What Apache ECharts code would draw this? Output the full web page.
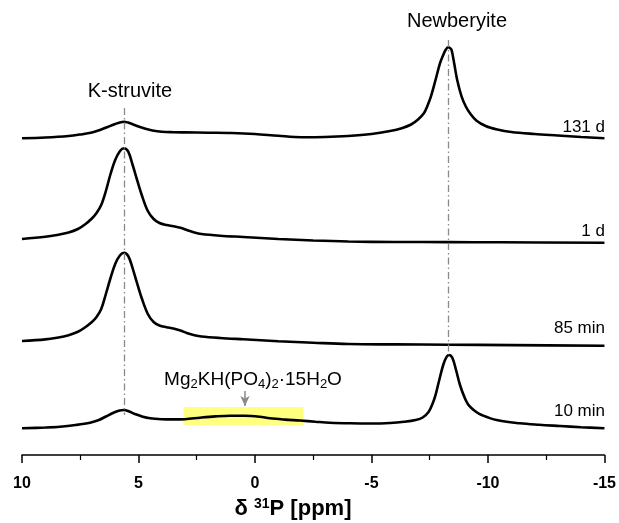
<!DOCTYPE html>
<html>
<head>
<meta charset="utf-8">
<script src="https://cdn.jsdelivr.net/npm/echarts@6/dist/echarts.min.js"></script>
<style>html,body{margin:0;padding:0;background:#fff}#c{width:619px;height:523px}</style>
</head>
<body>
<div id="c"></div>
<script>
// x: chemical shift (ppm), y: stacked intensity (arbitrary units, offset included)
const spec131d = [[10,316.7],[9,317.5],[8,319],[7.5,320.5],[7,322.5],[6.6,325.5],[6.3,328.3],[6,331],[5.8,332.6],[5.62,333.3],[5.45,332.5],[5.25,330.8],[5,328.5],[4.7,326.2],[4.4,324.5],[4,323.3],[3.5,322.8],[3,322.6],[2,322.3],[1,322],[0,321],[-1,319.2],[-2,317.8],[-3,318],[-4,319],[-5,321],[-5.8,324],[-6.3,326.8],[-6.7,330.5],[-7,335.5],[-7.25,341.7],[-7.4,349],[-7.55,358.3],[-7.75,375],[-7.94,391.7],[-8.08,400],[-8.18,405],[-8.29,407.7],[-8.38,406.8],[-8.44,405],[-8.55,391.7],[-8.68,375],[-8.87,358.3],[-9.05,348.5],[-9.23,341.7],[-9.5,334.5],[-9.9,329],[-10.4,325.5],[-11,323],[-12,321],[-13,319.5],[-14,318],[-15,316.7]];
const spec1d = [[10,216],[9,218.2],[8.5,220],[8,222.5],[7.6,226],[7.3,230.5],[7,236.5],[6.8,242],[6.6,250],[6.4,264],[6.2,281],[6,295],[5.8,303.8],[5.62,306.7],[5.44,303.3],[5.25,290],[5.08,276.7],[4.86,260],[4.6,244],[4.35,236],[4.1,232],[3.8,230],[3.5,228.8],[3.2,227.3],[2.9,224.8],[2.6,222.5],[2.3,221],[1.5,219.3],[0.5,218],[-1,216],[-2.5,214.5],[-4,213.5],[-6,213],[-8.3,212.9],[-10.5,212.7],[-15,212.3]];
const spec85min = [[10,114],[9,115.6],[8.5,117.3],[8,119.8],[7.6,123.2],[7.3,127.5],[7,133],[6.8,138],[6.6,146],[6.4,161],[6.2,177],[6,191],[5.8,199.5],[5.62,202.3],[5.44,199],[5.25,186.7],[5.08,173.3],[4.86,156.7],[4.6,141],[4.35,133],[4.1,129.5],[3.8,127.8],[3.5,126.5],[3.2,124.5],[2.9,121.8],[2.6,119.8],[2.3,118.5],[1.5,117],[0.5,115.7],[-1,113.8],[-2.5,112.3],[-4,111],[-6,110.6],[-8.3,110.3],[-11,109.9],[-15,109.3]];
const spec10min = [[10,26.7],[9,27.5],[8.37,28.3],[7.7,30],[7.08,32.3],[6.7,35],[6.4,38.5],[6.1,42],[5.85,44.3],[5.62,45],[5.4,43.5],[5.15,41],[4.85,38.5],[4.5,36.7],[4,35.8],[3.5,35.6],[3,35.8],[2.36,37.3],[1.7,38.6],[1.07,39.3],[0.43,39.3],[-0.2,38.3],[-0.64,36.7],[-1.3,35.4],[-1.93,34.5],[-2.6,33.3],[-3.22,32.3],[-4.08,31.7],[-5,31.5],[-5.8,32],[-6.4,33.2],[-6.9,35],[-7.2,37.5],[-7.45,43],[-7.6,50],[-7.73,58.3],[-7.91,75],[-8.08,90],[-8.23,98.3],[-8.34,100],[-8.48,96.7],[-8.63,85],[-8.8,70],[-9.01,56.7],[-9.15,50.5],[-9.3,46.7],[-9.5,43],[-9.73,40],[-10.37,35],[-11.37,31.7],[-12.2,30.2],[-13.09,29],[-14,27.8],[-15,26.7]];
const seriesNames = ['131 d', '1 d', '85 min', '10 min'];
const xTicks = [10, 5, 0, -5, -10, -15];
const kStruvitePos = 5.62;
const newberyitePos = -8.29;
const mgRange = [3.07, -2.07];
const mgArrowPos = 0.43;

const FONT = '"Liberation Sans", Arial, Helvetica, sans-serif';
const chart = echarts.init(document.getElementById('c'), null, {renderer: 'canvas'});

const lineBase = {type: 'line', showSymbol: false, symbol: 'none', smooth: 0.35,
  lineStyle: {color: '#000', width: 2.6}, z: 3, silent: true};
const dashStyle = {color: '#8a8a8a', width: 1.3, type: [7, 3, 1.5, 3]};

const option = {
  animation: false,
  backgroundColor: '#fff',
  grid: {left: 22, right: 14.5, top: 25, bottom: 68},
  xAxis: {
    type: 'value', min: -15, max: 10, interval: 5, inverse: true,
    axisLine: {show: true, onZero: false, lineStyle: {color: '#000', width: 1.5}},
    axisTick: {show: true, inside: false, length: 8, lineStyle: {color: '#000', width: 1.5}},
    minorTick: {show: true, splitNumber: 2, length: 5, lineStyle: {color: '#000', width: 1.2}},
    splitLine: {show: false},
    axisLabel: {color: '#000', fontFamily: FONT, fontWeight: 'bold', fontSize: 16, margin: 21,
      formatter: v => xTicks.includes(v) ? String(v) : ''}
  },
  yAxis: {type: 'value', min: 0, max: 430, show: false},
  series: [
    Object.assign({}, lineBase, {name: seriesNames[0], data: spec131d}),
    Object.assign({}, lineBase, {name: seriesNames[1], data: spec1d}),
    Object.assign({}, lineBase, {name: seriesNames[2], data: spec85min}),
    Object.assign({}, lineBase, {name: seriesNames[3], data: spec10min,
      markArea: {silent: true, itemStyle: {color: '#ffff80', opacity: 1}, z: 1,
        data: [[{coord: [mgRange[0], 48]}, {coord: [mgRange[1], 30]}]]}}),
    {type: 'line', data: [], z: 2, silent: true,
      markLine: {silent: true, symbol: 'none', animation: false, label: {show: false},
        lineStyle: dashStyle,
        data: [
          [{coord: [kStruvitePos, 347]}, {coord: [kStruvitePos, 40]}],
          [{coord: [newberyitePos, 415]}, {coord: [newberyitePos, 100]}]
        ]}},
    {type: 'line', data: [], z: 4, silent: true,
      markLine: {silent: true, symbol: ['none', 'arrow'], symbolSize: [7, 10], animation: false, label: {show: false},
        lineStyle: {color: '#8a8a8a', width: 1.5, type: 'solid'},
        data: [[{coord: [mgArrowPos, 64]}, {coord: [mgArrowPos, 49]}]]}}
  ],
  graphic: [
    {type: 'text', x: 130, y: 91, style: {text: 'K-struvite', font: '20px ' + FONT, fill: '#000', align: 'center', verticalAlign: 'middle'}},
    {type: 'text', x: 457, y: 21, style: {text: 'Newberyite', font: '20px ' + FONT, fill: '#000', align: 'center', verticalAlign: 'middle'}},
    {type: 'text', x: 605, y: 127, style: {text: seriesNames[0], font: '17px ' + FONT, fill: '#000', align: 'right', verticalAlign: 'middle'}},
    {type: 'text', x: 605, y: 231, style: {text: seriesNames[1], font: '17px ' + FONT, fill: '#000', align: 'right', verticalAlign: 'middle'}},
    {type: 'text', x: 605, y: 328, style: {text: seriesNames[2], font: '17px ' + FONT, fill: '#000', align: 'right', verticalAlign: 'middle'}},
    {type: 'text', x: 605, y: 411, style: {text: seriesNames[3], font: '17px ' + FONT, fill: '#000', align: 'right', verticalAlign: 'middle'}},
    {type: 'text', x: 253, y: 380, style: {
      text: 'Mg{sub|2}KH(PO{sub|4}){sub|2}·15H{sub|2}O',
      fontSize: 19, fontFamily: FONT, fill: '#000', align: 'center', verticalAlign: 'middle',
      rich: {sub: {fontSize: 13, fontFamily: FONT, fill: '#000', padding: [9, 0, 0, 0]}}}},
    {type: 'text', x: 293, y: 509, style: {
      text: 'δ {sup|31}P [ppm]',
      fontSize: 22, fontWeight: 'bold', fontFamily: FONT, fill: '#000', align: 'center', verticalAlign: 'middle',
      rich: {sup: {fontSize: 14, fontWeight: 'bold', fontFamily: FONT, fill: '#000', padding: [0, 0, 9, 0]}}}}
  ]
};
chart.setOption(option);
</script>
</body>
</html>
